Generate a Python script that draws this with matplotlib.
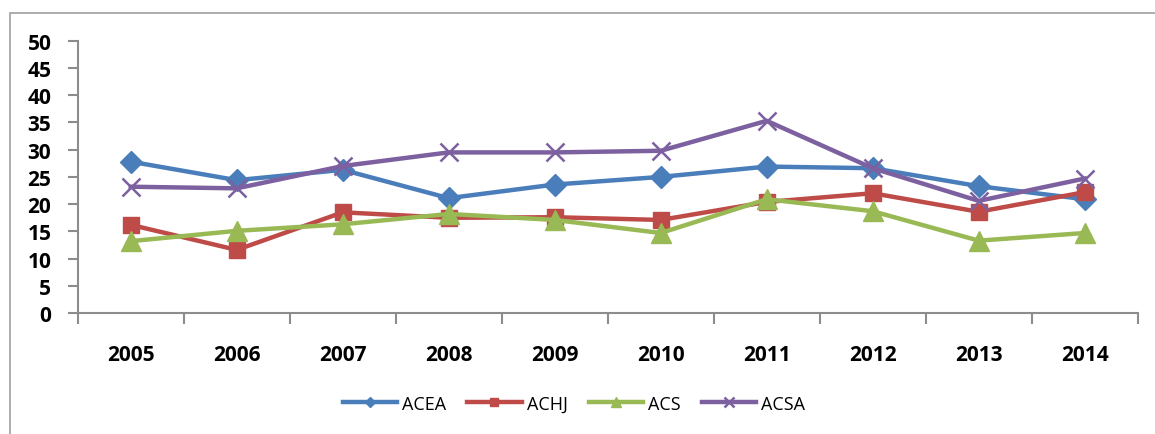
import matplotlib
matplotlib.use("Agg")
import matplotlib.pyplot as plt
from matplotlib.patches import Rectangle

years = ["2005", "2006", "2007", "2008", "2009", "2010", "2011", "2012", "2013", "2014"]
acea = [27.8, 24.4, 26.3, 21.1, 23.6, 25.0, 26.9, 26.6, 23.3, 20.9]
achj = [16.2, 11.6, 18.5, 17.5, 17.6, 17.1, 20.4, 22.0, 18.6, 22.2]
acs = [13.2, 15.1, 16.3, 18.2, 17.1, 14.7, 20.9, 18.7, 13.3, 14.7]
acsa = [23.2, 22.9, 27.0, 29.5, 29.5, 29.8, 35.3, 26.6, 20.6, 24.7]
yticks = list(range(0, 55, 5))

plt.rcParams['font.family'] = ['Open Sans', 'DejaVu Sans']

fig = plt.figure(figsize=(11.55, 4.35), dpi=100)
fig.patches.append(Rectangle((9.5 / 1155, -0.05), 1.2, 1 - 13.5 / 435 + 0.05,
                             transform=fig.transFigure, fill=False,
                             edgecolor='#a0a0a0', linewidth=1.2))
ax = fig.add_axes([0.0673, 0.278, 0.9177, 0.626])

x = list(range(len(years)))
ax.plot(x, acea, color='#4A7EBB', lw=3.2, marker='D', ms=11, label='ACEA', zorder=3)
ax.plot(x, achj, color='#BE4B48', lw=3.2, marker='s', ms=12, label='ACHJ', zorder=3)
ax.plot(x, acs, color='#98B954', lw=3.2, marker='^', ms=14, label='ACS', zorder=3)
ax.plot(x, acsa, color='#7D60A0', lw=3.2, marker='x', ms=13, mew=1.8, label='ACSA', zorder=4)

ax.set_xlim(-0.5, len(years) - 0.5)
ax.set_ylim(0, 50)
ax.set_yticks(yticks)
ax.set_yticklabels([str(v) for v in yticks], fontsize=15, fontweight='bold')
ax.set_xticks(x)
ax.set_xticklabels(years, fontsize=15, fontweight='bold')
ax.set_xticks([i - 0.5 for i in range(len(years) + 1)], minor=True)
ax.tick_params(axis='x', which='major', length=0, pad=22)
ax.tick_params(axis='x', which='minor', length=8, width=1.5, color='#8c8c8c')
ax.tick_params(axis='y', length=7, width=1.5, color='#8c8c8c', pad=12)
for s in ['top', 'right']:
    ax.spines[s].set_visible(False)
for s in ['left', 'bottom']:
    ax.spines[s].set_color('#8c8c8c')
    ax.spines[s].set_linewidth(1.5)

leg = fig.legend(loc='center', bbox_to_anchor=(0.497, 0.07), ncol=4, frameon=False,
                 fontsize=13, handlelength=3.0, columnspacing=1.15, handletextpad=0.3,
                 markerscale=0.5)

fig.savefig('out.png', dpi=100)
